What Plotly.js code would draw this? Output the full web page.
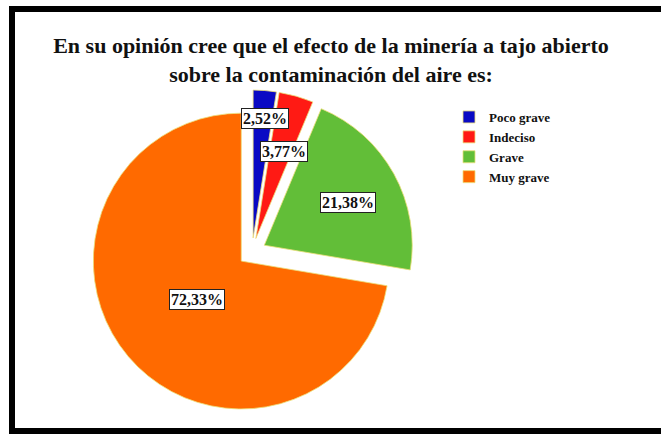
<!DOCTYPE html>
<html>
<head>
<meta charset="utf-8">
<script src="https://cdn.plot.ly/plotly-3.0.1.min.js"></script>
<style>
  html, body { margin: 0; padding: 0; background: #ffffff; }
  #chart { width: 661px; height: 434px; }
</style>
</head>
<body>
<div id="chart"></div>
<script>
// ---- data ----
const categories = ["Poco grave", "Indeciso", "Grave", "Muy grave"];
const percentages = [2.52, 3.77, 21.38, 72.33];
const colors = ["#0a0ac4", "#ff1a14", "#62be38", "#ff6a00"];

// ---- label box positions (pixels in the 661x434 page) ----
const labelPos = [[265, 119], [284, 151], [348, 202], [197, 299]];

const W = 661, H = 434;
const serif = "Liberation Serif, Times New Roman, serif";

function fmt(v) { return v.toFixed(2).replace('.', ',') + '%'; }

const trace = {
  type: 'pie',
  labels: categories,
  values: percentages,
  sort: false,
  direction: 'clockwise',
  rotation: 0,
  pull: [0.095, 0.095, 0.095, 0.095],
  textinfo: 'none',
  hoverinfo: 'label+percent',
  marker: { colors: colors, line: { color: '#ece07a', width: 0.8 } },
  domain: { x: [0.1362, 0.6263], y: [0.0461, 0.7926] }
};

const annotations = percentages.map((v, i) => ({
  xref: 'paper', yref: 'paper',
  x: labelPos[i][0] / W, y: 1 - labelPos[i][1] / H,
  xanchor: 'center', yanchor: 'middle',
  text: '<b>' + fmt(v) + '</b>',
  showarrow: false,
  font: { family: serif, size: 16, color: '#111111' },
  bgcolor: '#ffffff',
  bordercolor: '#222222',
  borderwidth: 1,
  borderpad: 1
}));

const layout = {
  width: W, height: H,
  margin: { l: 0, r: 0, t: 0, b: 0 },
  paper_bgcolor: '#ffffff',
  plot_bgcolor: '#ffffff',
  title: {
    text: '<b>En su opinión cree que el efecto de la minería a tajo abierto<br>sobre la contaminación del aire es:</b>',
    x: 331 / W, xanchor: 'center',
    y: 1 - 53 / H, yanchor: 'top',
    font: { family: serif, size: 22, color: '#111111' }
  },
  showlegend: true,
  legend: {
    x: 449 / W, xanchor: 'left',
    y: 1 - 102 / H, yanchor: 'top',
    font: { family: serif, size: 13, color: '#111111', weight: 'bold' },
    bgcolor: 'rgba(0,0,0,0)',
    tracegroupgap: 0,
    itemclick: false
  },
  annotations: annotations,
  shapes: [{
    type: 'rect', xref: 'paper', yref: 'paper',
    x0: 12 / W, x1: 672 / W, y0: 1 - 431 / H, y1: 1 - 9 / H,
    line: { color: '#000000', width: 6 },
    fillcolor: 'rgba(0,0,0,0)',
    layer: 'above'
  }]
};

Plotly.newPlot('chart', [trace], layout, { displayModeBar: false, staticPlot: true });
</script>
</body>
</html>
